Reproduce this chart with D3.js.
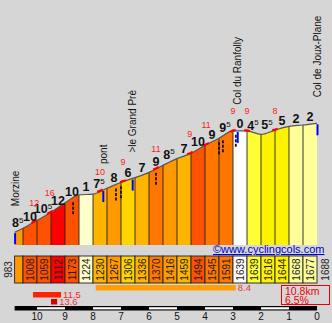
<!DOCTYPE html>
<html><head><meta charset="utf-8">
<script src="https://cdn.jsdelivr.net/npm/d3@7"></script>
<style>body{margin:0;background:#d6d6d6;} svg{display:block;font-family:"Liberation Sans",Arial,sans-serif}</style>
</head><body>
<svg id="c" width="332" height="323"></svg>
<script>
// ---------- data ----------
const distances  = [10.8,10.5,10,9.5,9,8.5,8,7.5,7,6.5,6,5.5,5,4.5,4,3.5,3,2.5,2,1.5,1,0.5,0];
const elevations = [983,1008,1059,1112,1173,1224,1230,1267,1306,1336,1370,1416,1459,1494,1545,1591,1639,1639,1616,1644,1668,1677,1688];
const gradients  = [8.5,10,10.5,12,10,1,7.5,8,6,7,9,8.5,7,10,9,9.5,0,-4.5,5.5,5,2,2];
const maxGradDist  = [10.1,9.54,7.75,6.93,5.75,4.54,3.96,3.0,2.5,1.5];
const maxGradValue = [12,16,10,9,11,9,11,9,9,8];
const placeNames = ["Morzine","pont",">le Grand Prè","Col du Ranfolly","Col de Joux-Plane"];
const placeDist  = [10.8,7.65,6.6,2.85,0];
const hairpinDist = [8.71,7.18,7.0,5.75,3.5,3.36,2.9];
const kmTicks = [10,9,8,7,6,5,4,3,2,1,0];
const sectionStart = [7.9,10.14,9.5];
const sectionEnd   = [2.9,9.14,9.28];
const sectionValue = [8.4,11.5,13.6];
const totalKm = 10.8, avgGrade = 6.5;

// ---------- layout ----------
const svg = d3.select("#c");
const W = 332, H = 323;
const x = d3.scaleLinear().domain([10.8,0]).range([14.6,317]);
const y = d3.scaleLinear().domain([900,1688]).range([245,123.3]);
const elevAt = d3.scaleLinear().domain(distances).range(elevations);
const color = d3.scaleThreshold()
  .domain([1,2,4,5,6,7,8,9,10,11])
  .range(["#ffffff","#ffffcc","#ffff99","#ffff33","#fff200","#ffd500","#ffb400","#ff9900","#ff7700","#ff5200","#ff0000"]);

svg.append("rect").attr("width",W).attr("height",H).attr("fill","#d6d6d6");

const pts = distances.map((d,i)=>[d,elevations[i]]);
const area = d3.area().x(p=>x(p[0])).y0(y(900)).y1(p=>y(p[1])).curve(d3.curveMonotoneX);
const line = d3.line().x(p=>x(p[0])).y(p=>y(p[1])).curve(d3.curveMonotoneX);

svg.append("clipPath").attr("id","prof").append("path").attr("d",area(pts));
const segs = gradients.map((g,i)=>({g, d0:distances[i], d1:distances[i+1], e0:elevations[i], e1:elevations[i+1], i}));

const pg = svg.append("g").attr("clip-path","url(#prof)");
pg.selectAll("rect").data(segs).join("rect")
  .attr("x",s=>x(s.d0)).attr("width",s=>x(s.d1)-x(s.d0))
  .attr("y",y(1700)).attr("height",y(900)-y(1700))
  .attr("fill",s=>color(Math.abs(s.g)));
pg.selectAll("line").data(distances.slice(1,-1)).join("line")
  .attr("x1",d=>x(d)).attr("x2",d=>x(d)).attr("y1",y(1700)).attr("y2",y(900))
  .attr("stroke","#222").attr("stroke-width",0.9);

svg.append("path").attr("d",line(pts)).attr("fill","none").attr("stroke","#555").attr("stroke-width",1.2);

// red max-gradient markers on line
maxGradDist.forEach(d=>{
  const ds = d3.range(d+0.1, d-0.1001, -0.05).filter(v=>v<=10.8&&v>=0);
  svg.append("path").attr("d", d3.line().x(v=>x(v)).y(v=>y(elevAt(v))-0.5)(ds))
    .attr("fill","none").attr("stroke","#ff0000").attr("stroke-width",2.2);
});

// hairpin markers
svg.selectAll("line.hp").data(hairpinDist).join("line").attr("class","hp")
  .attr("x1",d=>x(d)).attr("x2",d=>x(d))
  .attr("y1",d=>y(elevAt(d))+4).attr("y2",d=>y(elevAt(d))+16)
  .attr("stroke","#111").attr("stroke-width",1.8).attr("stroke-dasharray","3,1.5");

// blue place markers
svg.selectAll("line.pm").data(placeDist).join("line").attr("class","pm")
  .attr("x1",d=>x(d)+0.5).attr("x2",d=>x(d)+0.5)
  .attr("y1",d=>y(elevAt(d))+1).attr("y2",d=>y(elevAt(d))+12)
  .attr("stroke","#0000ff").attr("stroke-width",2);

// place names
placeNames.forEach((n,i)=>{
  const d = placeDist[i];
  svg.append("text").attr("transform",`translate(${x(d)+4},${y(elevAt(d))-26}) rotate(-90)`)
    .attr("font-size",10).attr("fill","#111").text(n);
});

// gradient labels
segs.forEach(s=>{
  const a = Math.abs(s.g), ip = Math.floor(a), half = a-ip>0.01;
  const mx = x((s.d0+s.d1)/2) - (half?1:0);
  const my = y((s.e0+s.e1)/2) - 3;
  const t = svg.append("text").attr("x",mx).attr("y",my).attr("text-anchor","middle")
    .attr("font-size",12.5).attr("font-weight","bold").attr("fill","#111");
  t.append("tspan").text(ip);
  if(half) t.append("tspan").attr("font-size",8).attr("font-weight","normal").attr("dy",-4.5).text("5");
});

// red max gradient labels
maxGradDist.forEach((d,i)=>{
  svg.append("text").attr("x",x(d)).attr("y",y(elevAt(d))-16.5).attr("text-anchor","middle")
    .attr("font-size",9).attr("fill","#ff2020").text(maxGradValue[i]);
});

// copyright
svg.append("text").attr("x",213).attr("y",253).attr("font-size",11).attr("fill","#0000cc")
  .attr("text-decoration","underline").text("©www.cyclingcols.com");

// elevation band
const bandTop = 256, bandBot = 283;
svg.selectAll("rect.band").data(segs).join("rect").attr("class","band")
  .attr("x",s=>x(s.d0)).attr("width",s=>x(s.d1)-x(s.d0))
  .attr("y",bandTop).attr("height",bandBot-bandTop)
  .attr("fill",s=>color(Math.abs(s.g))).attr("stroke","#222").attr("stroke-width",0.9);
segs.forEach(s=>{
  if(s.i===0) return;
  svg.append("text").attr("transform",`translate(${x((s.d0+s.d1)/2)},${(bandTop+bandBot)/2}) rotate(-90)`)
    .attr("text-anchor","middle").attr("dominant-baseline","central")
    .attr("font-size",10).attr("fill","#222").text(s.e0);
});
[[elevations[0],8],[elevations[elevations.length-1],325]].forEach(([e,px])=>{
  svg.append("text").attr("transform",`translate(${px},${(bandTop+bandBot)/2}) rotate(-90)`)
    .attr("text-anchor","middle").attr("dominant-baseline","central")
    .attr("font-size",10).attr("fill","#222").text(e);
});

// best sections bars
const secColors = ["#ffa000","#ff2200","#dd0000"];
const secY = [285,292,299];
const secTxt = ["#ee3333","#ff2222","#ee3333"];
sectionValue.forEach((v,i)=>{
  svg.append("rect").attr("x",x(sectionStart[i])).attr("width",x(sectionEnd[i])-x(sectionStart[i]))
    .attr("y",secY[i]).attr("height",5.5).attr("fill",secColors[i]);
  svg.append("text").attr("x",x(sectionEnd[i])+2).attr("y",secY[i]+6).attr("font-size",9.5)
    .attr("fill",secTxt[i]).text(v.toFixed(1));
});

// km bar
svg.append("rect").attr("x",x(10.8)).attr("width",x(0)-x(10.8)).attr("y",306).attr("height",4.5).attr("fill","#000");
kmTicks.slice(0,-1).forEach((k,i)=>{
  if(i%2===0) svg.append("rect").attr("x",x(k)).attr("width",x(k-1)-x(k)).attr("y",307.2).attr("height",2.2).attr("fill","#fff");
});
svg.selectAll("text.km").data(kmTicks).join("text").attr("class","km")
  .attr("x",d=>x(d)).attr("y",320).attr("text-anchor","middle").attr("font-size",10).attr("fill","#111").text(d=>d);

// summary box
svg.append("rect").attr("x",281.5).attr("y",285.5).attr("width",48).attr("height",19)
  .attr("fill","none").attr("stroke","#ee0000").attr("stroke-width",1);
svg.append("text").attr("x",285).attr("y",294.5).attr("font-size",10.5).attr("fill","#ee0000").text(totalKm+"km");
svg.append("text").attr("x",285).attr("y",303.5).attr("font-size",10.5).attr("fill","#ee0000").text(avgGrade+"%");
</script>
</body></html>
